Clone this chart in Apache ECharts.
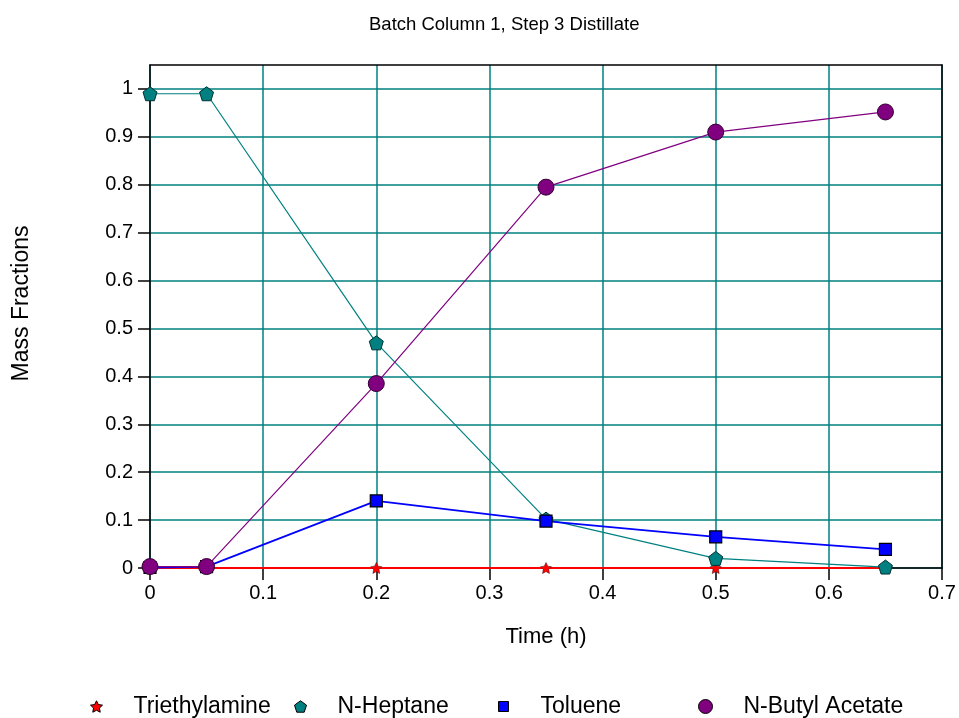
<!DOCTYPE html>
<html>
<head>
<meta charset="utf-8">
<script src="https://cdn.jsdelivr.net/npm/echarts@6/dist/echarts.min.js"></script>
<style>html,body{margin:0;padding:0;background:#fff;}#c{width:959px;height:718px;}</style>
</head>
<body>
<div id="c"></div>
<script>
const times = [0, 0.05, 0.2, 0.35, 0.5, 0.65];
const triethylamine = [0, 0, 0, 0, 0, 0];
const nHeptane = [0.99, 0.99, 0.47, 0.102, 0.02, 0.002];
const toluene = [0.001, 0.003, 0.14, 0.098, 0.065, 0.039];
const nButylAcetate = [0.003, 0.003, 0.385, 0.795, 0.91, 0.952];
const seriesNames = ['Triethylamine', 'N-Heptane', 'Toluene', 'N-Butyl Acetate'];
const yTicks = [0, 0.1, 0.2, 0.3, 0.4, 0.5, 0.6, 0.7, 0.8, 0.9, 1];

const pair = arr => times.map((t, i) => [t, arr[i]]);
const FONT = 'Liberation Sans';
const starPath = 'path://M0,-10 L2.9,-4 L9.5,-3.1 L4.7,1.5 L5.9,8.1 L0,5 L-5.9,8.1 L-4.7,1.5 L-9.5,-3.1 L-2.9,-4 Z';
const pentPath = 'path://M0,-10 L9.5,-3.1 L5.9,8.1 L-5.9,8.1 L-9.5,-3.1 Z';

const chart = echarts.init(document.getElementById('c'));
const legendLefts = [90, 294, 498, 698];
const icons = [starPath, pentPath, 'rect', 'circle'];
const legendSizes = [[12, 12], [12, 12], [10, 10], [14, 14]];
const legendPads = [26, 26, 27, 26];
const legendColors = ['#ff0000', '#008080', '#0000ff', '#800080'];

chart.setOption({
  animation: false,
  backgroundColor: '#fff',
  title: {
    text: 'Batch Column 1, Step 3 Distillate',
    left: 369, top: 15, padding: 0,
    textStyle: { fontFamily: FONT, fontSize: 18.5, fontWeight: 'normal', color: '#000' }
  },
  grid: { left: 150, right: 17, top: 65, bottom: 150 },
  legend: seriesNames.map((n, i) => ({
    data: [{ name: n, icon: icons[i], itemStyle: { color: legendColors[i], borderColor: '#000', borderWidth: 1 } }],
    left: legendLefts[i], top: 695, padding: 0,
    itemWidth: legendSizes[i][0], itemHeight: legendSizes[i][1], itemGap: 0,
    textStyle: { fontFamily: FONT, fontSize: 23, color: '#000', padding: [0, 0, 0, legendPads[i]] }
  })),
  xAxis: [{
    type: 'value', min: 0, max: 0.7, interval: 0.1,
    name: 'Time (h)', nameLocation: 'middle', nameGap: 58,
    nameTextStyle: { fontFamily: FONT, fontSize: 22, color: '#000' },
    axisLine: { show: true, onZero: false, lineStyle: { color: '#000', width: 1.5 } },
    axisTick: { show: true, length: 12, lineStyle: { color: '#000', width: 1.5 } },
    axisLabel: { fontFamily: FONT, fontSize: 20, color: '#000', margin: 15 },
    splitLine: { show: true, lineStyle: { color: '#008080', width: 1.5 } }
  }, {
    type: 'value', min: 0, max: 0.7, interval: 0.1, position: 'top',
    axisLine: { show: true, onZero: false, lineStyle: { color: '#000', width: 1.5 } },
    axisTick: { show: false }, axisLabel: { show: false }, splitLine: { show: false }
  }],
  yAxis: [{
    type: 'value', min: 0, max: 1.05, interval: 0.1,
    name: 'Mass Fractions', nameLocation: 'middle', nameGap: 117, nameRotate: 90,
    nameTextStyle: { fontFamily: FONT, fontSize: 23, color: '#000', padding: [0, 0, 0, 26] },
    axisLine: { show: true, onZero: false, lineStyle: { color: '#000', width: 1.5 } },
    axisTick: { show: true, length: 12, customValues: yTicks, lineStyle: { color: '#000', width: 1.5 } },
    axisLabel: {
      fontFamily: FONT, fontSize: 20, color: '#000', margin: 17, customValues: yTicks,
      formatter: v => String(Math.round(v * 10) / 10)
    },
    splitLine: { show: true, lineStyle: { color: '#008080', width: 1.5 } }
  }, {
    type: 'value', min: 0, max: 1.05, interval: 0.1, position: 'right',
    axisLine: { show: true, onZero: false, lineStyle: { color: '#000', width: 1.5 } },
    axisTick: { show: false }, axisLabel: { show: false }, splitLine: { show: false }
  }],
  series: [
    {
      name: seriesNames[1], type: 'line', data: pair(nHeptane),
      symbol: pentPath, symbolSize: 14,
      lineStyle: { color: '#008080', width: 1.2 },
      itemStyle: { color: '#008080', borderColor: '#003030', borderWidth: 1 }, z: 3
    },
    {
      name: seriesNames[2], type: 'line', data: pair(toluene),
      symbol: 'rect', symbolSize: 12,
      lineStyle: { color: '#0000ff', width: 1.8 },
      itemStyle: { color: '#0000ff', borderColor: '#000', borderWidth: 1.2 }, z: 4
    },
    {
      name: seriesNames[3], type: 'line', data: pair(nButylAcetate),
      symbol: 'circle', symbolSize: 16,
      lineStyle: { color: '#800080', width: 1.2 },
      itemStyle: { color: '#800080', borderColor: '#300030', borderWidth: 1 }, z: 5
    },
    {
      name: seriesNames[0], type: 'line', data: pair(triethylamine),
      symbol: starPath, symbolSize: 11,
      lineStyle: { color: '#ff0000', width: 2 },
      itemStyle: { color: '#ff0000', borderColor: '#400000', borderWidth: 0.5 }, z: 2
    }
  ]
});
</script>
</body>
</html>
